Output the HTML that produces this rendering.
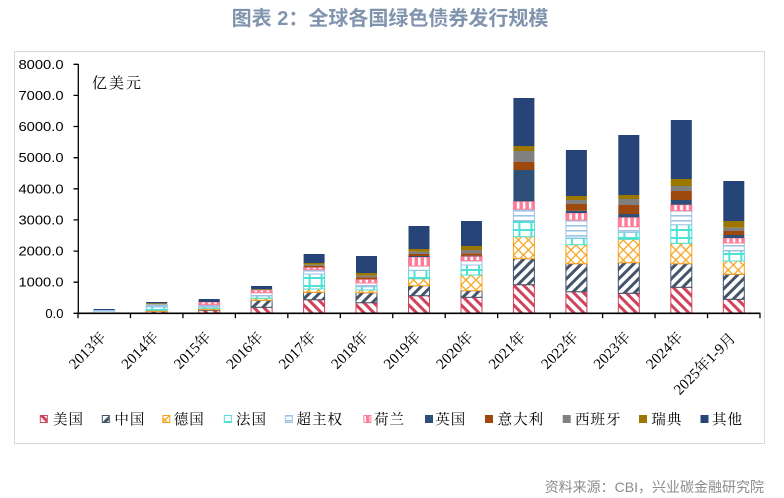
<!DOCTYPE html>
<html><head><meta charset="utf-8"><style>
html,body{margin:0;padding:0;background:#fff;}
svg{display:block;}
.us{fill:url(#pUS);stroke:#D0435A;stroke-width:1}
.cn{fill:url(#pCN);stroke:#44546A;stroke-width:1}
.de{fill:url(#pDE);stroke:#F5A01A;stroke-width:1}
.fr{fill:url(#pFR);stroke:#4FE0D6;stroke-width:1}
.su{fill:url(#pSU);stroke:#9DC3E6;stroke-width:1}
.nl{fill:url(#pNL);stroke:#FF7C98;stroke-width:1}
.uk{fill:#2E5078}
.it{fill:#9E480E}
.es{fill:#808080}
.se{fill:#9C7700}
.ot{fill:#264478}
.yl{font-family:"Liberation Sans",sans-serif;font-size:13px;fill:#000}
.xl{font-family:"Liberation Serif","Noto Serif CJK SC",serif;font-size:15px;fill:#000}
.lg{font-family:"Noto Serif CJK SC","Liberation Serif",serif;font-size:14.5px;letter-spacing:1px;fill:#000}
</style></head><body>
<svg width="784" height="498" viewBox="0 0 784 498" xmlns="http://www.w3.org/2000/svg">
<defs>
<pattern id="pUS" width="7" height="7" patternUnits="userSpaceOnUse" patternTransform="rotate(-45)"><rect width="7" height="7" fill="#fff"/><rect width="3" height="7" fill="#D0435A"/></pattern>
<pattern id="pCN" width="7" height="7" patternUnits="userSpaceOnUse" patternTransform="rotate(45)"><rect width="7" height="7" fill="#fff"/><rect width="3" height="7" fill="#44546A"/></pattern>
<pattern id="pDE" width="10" height="10" patternUnits="userSpaceOnUse"><rect width="10" height="10" fill="#fff"/><path d="M0,5L5,0L10,5L5,10Z" fill="none" stroke="#F5A623" stroke-width="1.3"/></pattern>
<pattern id="pFR" width="12" height="8" patternUnits="userSpaceOnUse"><rect width="12" height="8" fill="#fff"/><rect x="5" width="2" height="8" fill="#4FE0D6"/><rect y="5" width="12" height="2" fill="#4FE0D6"/></pattern>
<pattern id="pSU" width="5" height="5" patternUnits="userSpaceOnUse"><rect width="5" height="5" fill="#fff"/><rect width="5" height="1.6" fill="#9DC3E6"/></pattern>
<pattern id="pNL" width="6" height="6" patternUnits="userSpaceOnUse"><rect width="6" height="6" fill="#FF7C98"/><rect x="3.5" width="2.5" height="6" fill="#fff"/></pattern>
</defs>

<text x="390" y="25" text-anchor="middle" font-family="'Liberation Sans','Noto Sans CJK SC',sans-serif" font-size="20" font-weight="bold" fill="#8194AD">图表 2：全球各国绿色债券发行规模</text>

<rect x="14.5" y="51.5" width="750" height="392" fill="none" stroke="#D9D9D9" stroke-width="1"/>

<g class="yl" text-anchor="end">
<text x="63.5" y="68.8" textLength="45" lengthAdjust="spacingAndGlyphs">8000.0</text>
<text x="63.5" y="99.9" textLength="45" lengthAdjust="spacingAndGlyphs">7000.0</text>
<text x="63.5" y="131.0" textLength="45" lengthAdjust="spacingAndGlyphs">6000.0</text>
<text x="63.5" y="162.2" textLength="45" lengthAdjust="spacingAndGlyphs">5000.0</text>
<text x="63.5" y="193.3" textLength="45" lengthAdjust="spacingAndGlyphs">4000.0</text>
<text x="63.5" y="224.4" textLength="45" lengthAdjust="spacingAndGlyphs">3000.0</text>
<text x="63.5" y="255.6" textLength="45" lengthAdjust="spacingAndGlyphs">2000.0</text>
<text x="63.5" y="286.7" textLength="45" lengthAdjust="spacingAndGlyphs">1000.0</text>
<text x="63.5" y="317.8">0.0</text>
</g>
<text x="92" y="88" font-family="'Noto Serif CJK SC','Liberation Serif',serif" font-size="15" letter-spacing="2" fill="#000">亿美元</text>

<g transform="translate(93.7,0)">
<rect class="su" x="0" y="310" width="21" height="3.3"/>
<rect class="ot" x="0" y="309" width="21" height="1"/>
</g>
<g transform="translate(146.2,0)">
<rect class="us" x="0" y="311.3" width="21" height="2"/>
<rect class="de" x="0" y="310.3" width="21" height="1"/>
<rect class="fr" x="0" y="307" width="21" height="3.3"/>
<rect class="su" x="0" y="304.3" width="21" height="2.7"/>
<rect class="se" x="0" y="303.3" width="21" height="1"/>
<rect class="ot" x="0" y="302" width="21" height="1.3"/>
</g>
<g transform="translate(198.7,0)">
<rect class="us" x="0" y="310.3" width="21" height="3"/>
<rect class="cn" x="0" y="309.7" width="21" height="0.6"/>
<rect class="de" x="0" y="308.3" width="21" height="1.4"/>
<rect class="fr" x="0" y="307" width="21" height="1.3"/>
<rect class="su" x="0" y="304.7" width="21" height="2.3"/>
<rect class="nl" x="0" y="302" width="21" height="2.7"/>
<rect class="ot" x="0" y="299" width="21" height="3"/>
</g>
<g transform="translate(251.1,0)">
<rect class="us" x="0" y="307.3" width="21" height="6"/>
<rect class="cn" x="0" y="300.3" width="21" height="7"/>
<rect class="de" x="0" y="298.3" width="21" height="2"/>
<rect class="fr" x="0" y="296" width="21" height="2.3"/>
<rect class="su" x="0" y="292.7" width="21" height="3.3"/>
<rect class="nl" x="0" y="290" width="21" height="2.7"/>
<rect class="es" x="0" y="289.5" width="21" height="0.5"/>
<rect class="se" x="0" y="289" width="21" height="0.5"/>
<rect class="ot" x="0" y="286" width="21" height="3"/>
</g>
<g transform="translate(303.6,0)">
<rect class="us" x="0" y="299.7" width="21" height="13.6"/>
<rect class="cn" x="0" y="292.3" width="21" height="7.4"/>
<rect class="de" x="0" y="289" width="21" height="3.3"/>
<rect class="fr" x="0" y="274" width="21" height="15"/>
<rect class="su" x="0" y="269.7" width="21" height="4.3"/>
<rect class="nl" x="0" y="267.3" width="21" height="2.4"/>
<rect class="it" x="0" y="266" width="21" height="1.3"/>
<rect class="es" x="0" y="264.7" width="21" height="1.3"/>
<rect class="se" x="0" y="263" width="21" height="1.7"/>
<rect class="ot" x="0" y="254" width="21" height="9"/>
</g>
<g transform="translate(356,0)">
<rect class="us" x="0" y="302.7" width="21" height="10.6"/>
<rect class="cn" x="0" y="292.7" width="21" height="10"/>
<rect class="de" x="0" y="290" width="21" height="2.7"/>
<rect class="fr" x="0" y="286.7" width="21" height="3.3"/>
<rect class="su" x="0" y="283" width="21" height="3.7"/>
<rect class="nl" x="0" y="279.3" width="21" height="3.7"/>
<rect class="it" x="0" y="277.3" width="21" height="2"/>
<rect class="es" x="0" y="275.7" width="21" height="1.6"/>
<rect class="se" x="0" y="273" width="21" height="2.7"/>
<rect class="ot" x="0" y="256" width="21" height="17"/>
</g>
<g transform="translate(408.5,0)">
<rect class="us" x="0" y="295.7" width="21" height="17.6"/>
<rect class="cn" x="0" y="285.7" width="21" height="10"/>
<rect class="de" x="0" y="278.7" width="21" height="7"/>
<rect class="fr" x="0" y="270.3" width="21" height="8.4"/>
<rect class="su" x="0" y="266" width="21" height="4.3"/>
<rect class="nl" x="0" y="257" width="21" height="9"/>
<rect class="uk" x="0" y="256" width="21" height="1"/>
<rect class="it" x="0" y="254" width="21" height="2"/>
<rect class="es" x="0" y="251.7" width="21" height="2.3"/>
<rect class="se" x="0" y="249" width="21" height="2.7"/>
<rect class="ot" x="0" y="226" width="21" height="23"/>
</g>
<g transform="translate(461,0)">
<rect class="us" x="0" y="297.3" width="21" height="16"/>
<rect class="cn" x="0" y="290.7" width="21" height="6.6"/>
<rect class="de" x="0" y="275" width="21" height="15.7"/>
<rect class="fr" x="0" y="265" width="21" height="10"/>
<rect class="su" x="0" y="260.7" width="21" height="4.3"/>
<rect class="nl" x="0" y="256.3" width="21" height="4.4"/>
<rect class="uk" x="0" y="255.7" width="21" height="0.6"/>
<rect class="it" x="0" y="253.3" width="21" height="2.4"/>
<rect class="es" x="0" y="250" width="21" height="3.3"/>
<rect class="se" x="0" y="246" width="21" height="4"/>
<rect class="ot" x="0" y="221" width="21" height="25"/>
</g>
<g transform="translate(513.4,0)">
<rect class="us" x="0" y="284.7" width="21" height="28.6"/>
<rect class="cn" x="0" y="258.7" width="21" height="26"/>
<rect class="de" x="0" y="236.7" width="21" height="22"/>
<rect class="fr" x="0" y="220.7" width="21" height="16"/>
<rect class="su" x="0" y="209.3" width="21" height="11.4"/>
<rect class="nl" x="0" y="201.3" width="21" height="8"/>
<rect class="uk" x="0" y="170" width="21" height="31.3"/>
<rect class="it" x="0" y="162" width="21" height="8"/>
<rect class="es" x="0" y="151" width="21" height="11"/>
<rect class="se" x="0" y="146" width="21" height="5"/>
<rect class="ot" x="0" y="98" width="21" height="48"/>
</g>
<g transform="translate(565.9,0)">
<rect class="us" x="0" y="291.7" width="21" height="21.6"/>
<rect class="cn" x="0" y="263.7" width="21" height="28"/>
<rect class="de" x="0" y="244.7" width="21" height="19"/>
<rect class="fr" x="0" y="238" width="21" height="6.7"/>
<rect class="su" x="0" y="220" width="21" height="18"/>
<rect class="nl" x="0" y="213" width="21" height="7"/>
<rect class="uk" x="0" y="210.7" width="21" height="2.3"/>
<rect class="it" x="0" y="204" width="21" height="6.7"/>
<rect class="es" x="0" y="200" width="21" height="4"/>
<rect class="se" x="0" y="196" width="21" height="4"/>
<rect class="ot" x="0" y="150" width="21" height="46"/>
</g>
<g transform="translate(618.3,0)">
<rect class="us" x="0" y="293.3" width="21" height="20"/>
<rect class="cn" x="0" y="262.7" width="21" height="30.6"/>
<rect class="de" x="0" y="239.3" width="21" height="23.4"/>
<rect class="fr" x="0" y="232.3" width="21" height="7"/>
<rect class="su" x="0" y="226.7" width="21" height="5.6"/>
<rect class="nl" x="0" y="217.3" width="21" height="9.4"/>
<rect class="uk" x="0" y="214" width="21" height="3.3"/>
<rect class="it" x="0" y="205" width="21" height="9"/>
<rect class="es" x="0" y="199" width="21" height="6"/>
<rect class="se" x="0" y="195" width="21" height="4"/>
<rect class="ot" x="0" y="135" width="21" height="60"/>
</g>
<g transform="translate(670.8,0)">
<rect class="us" x="0" y="287.3" width="21" height="26"/>
<rect class="cn" x="0" y="263.7" width="21" height="23.6"/>
<rect class="de" x="0" y="243.3" width="21" height="20.4"/>
<rect class="fr" x="0" y="224.7" width="21" height="18.6"/>
<rect class="su" x="0" y="210.7" width="21" height="14"/>
<rect class="nl" x="0" y="204.7" width="21" height="6"/>
<rect class="uk" x="0" y="200" width="21" height="4.7"/>
<rect class="it" x="0" y="191" width="21" height="9"/>
<rect class="es" x="0" y="186" width="21" height="5"/>
<rect class="se" x="0" y="179" width="21" height="7"/>
<rect class="ot" x="0" y="120" width="21" height="59"/>
</g>
<g transform="translate(723.3,0)">
<rect class="us" x="0" y="299.3" width="21" height="14"/>
<rect class="cn" x="0" y="274.3" width="21" height="25"/>
<rect class="de" x="0" y="261" width="21" height="13.3"/>
<rect class="fr" x="0" y="251" width="21" height="10"/>
<rect class="su" x="0" y="243" width="21" height="8"/>
<rect class="nl" x="0" y="238" width="21" height="5"/>
<rect class="uk" x="0" y="235" width="21" height="3"/>
<rect class="it" x="0" y="231" width="21" height="4"/>
<rect class="es" x="0" y="227.7" width="21" height="3.3"/>
<rect class="se" x="0" y="221" width="21" height="6.7"/>
<rect class="ot" x="0" y="181" width="21" height="40"/>
</g>

<g stroke="#000" stroke-width="1.3" fill="none">
<path d="M78.3,64V313.3"/>
<path d="M73.5,64.3H78.3M73.5,95.4H78.3M73.5,126.5H78.3M73.5,157.7H78.3M73.5,188.8H78.3M73.5,219.9H78.3M73.5,251.1H78.3M73.5,282.2H78.3M73.5,313.3H78.3"/>
<path d="M78,313.3H760.5" stroke-width="1.6"/>
<path d="M78,313.3v5M130.46,313.3v5M182.92,313.3v5M235.38,313.3v5M287.84,313.3v5M340.3,313.3v5M392.76,313.3v5M445.22,313.3v5M497.68,313.3v5M550.14,313.3v5M602.6,313.3v5M655.06,313.3v5M707.52,313.3v5M759.98,313.3v5"/>
</g>

<g class="xl" text-anchor="end">
<text transform="translate(106.7,338) rotate(-45)">2013年</text>
<text transform="translate(159.2,338) rotate(-45)">2014年</text>
<text transform="translate(211.7,338) rotate(-45)">2015年</text>
<text transform="translate(264.1,338) rotate(-45)">2016年</text>
<text transform="translate(316.6,338) rotate(-45)">2017年</text>
<text transform="translate(369.0,338) rotate(-45)">2018年</text>
<text transform="translate(421.5,338) rotate(-45)">2019年</text>
<text transform="translate(474.0,338) rotate(-45)">2020年</text>
<text transform="translate(526.4,338) rotate(-45)">2021年</text>
<text transform="translate(578.9,338) rotate(-45)">2022年</text>
<text transform="translate(631.3,338) rotate(-45)">2023年</text>
<text transform="translate(683.8,338) rotate(-45)">2024年</text>
<text transform="translate(736.3,339) rotate(-45)">2025年1-9月</text>
</g>

<rect class="us" x="40.3" y="415.5" width="7" height="7"/>
<rect class="cn" x="102.3" y="415.5" width="7" height="7"/>
<rect class="de" x="162.8" y="415.5" width="7" height="7"/>
<rect class="fr" x="224.3" y="415.5" width="7" height="7"/>
<rect class="su" x="285.3" y="415.5" width="7" height="7"/>
<rect class="nl" x="363.9" y="415.5" width="7" height="7"/>
<rect class="uk" x="425" y="415" width="8" height="8"/>
<rect class="it" x="485" y="415" width="8" height="8"/>
<rect class="es" x="562.7" y="415" width="8" height="8"/>
<rect class="se" x="639" y="415" width="8" height="8"/>
<rect class="ot" x="700.5" y="415" width="8" height="8"/>
<g class="lg">
<text x="53" y="424.7">美国</text>
<text x="114.4" y="424.7">中国</text>
<text x="173.8" y="424.7">德国</text>
<text x="236" y="424.7">法国</text>
<text x="296.5" y="424.7">超主权</text>
<text x="374" y="424.7">荷兰</text>
<text x="435.3" y="424.7">英国</text>
<text x="497.6" y="424.7">意大利</text>
<text x="575" y="424.7">西班牙</text>
<text x="651.4" y="424.7">瑞典</text>
<text x="712" y="424.7">其他</text>
</g>

<text x="764" y="492" text-anchor="end" font-family="'Liberation Sans','Noto Sans CJK SC',sans-serif" font-size="14" fill="#8C8C8C">资料来源：CBI，兴业碳金融研究院</text>
</svg>
</body></html>
